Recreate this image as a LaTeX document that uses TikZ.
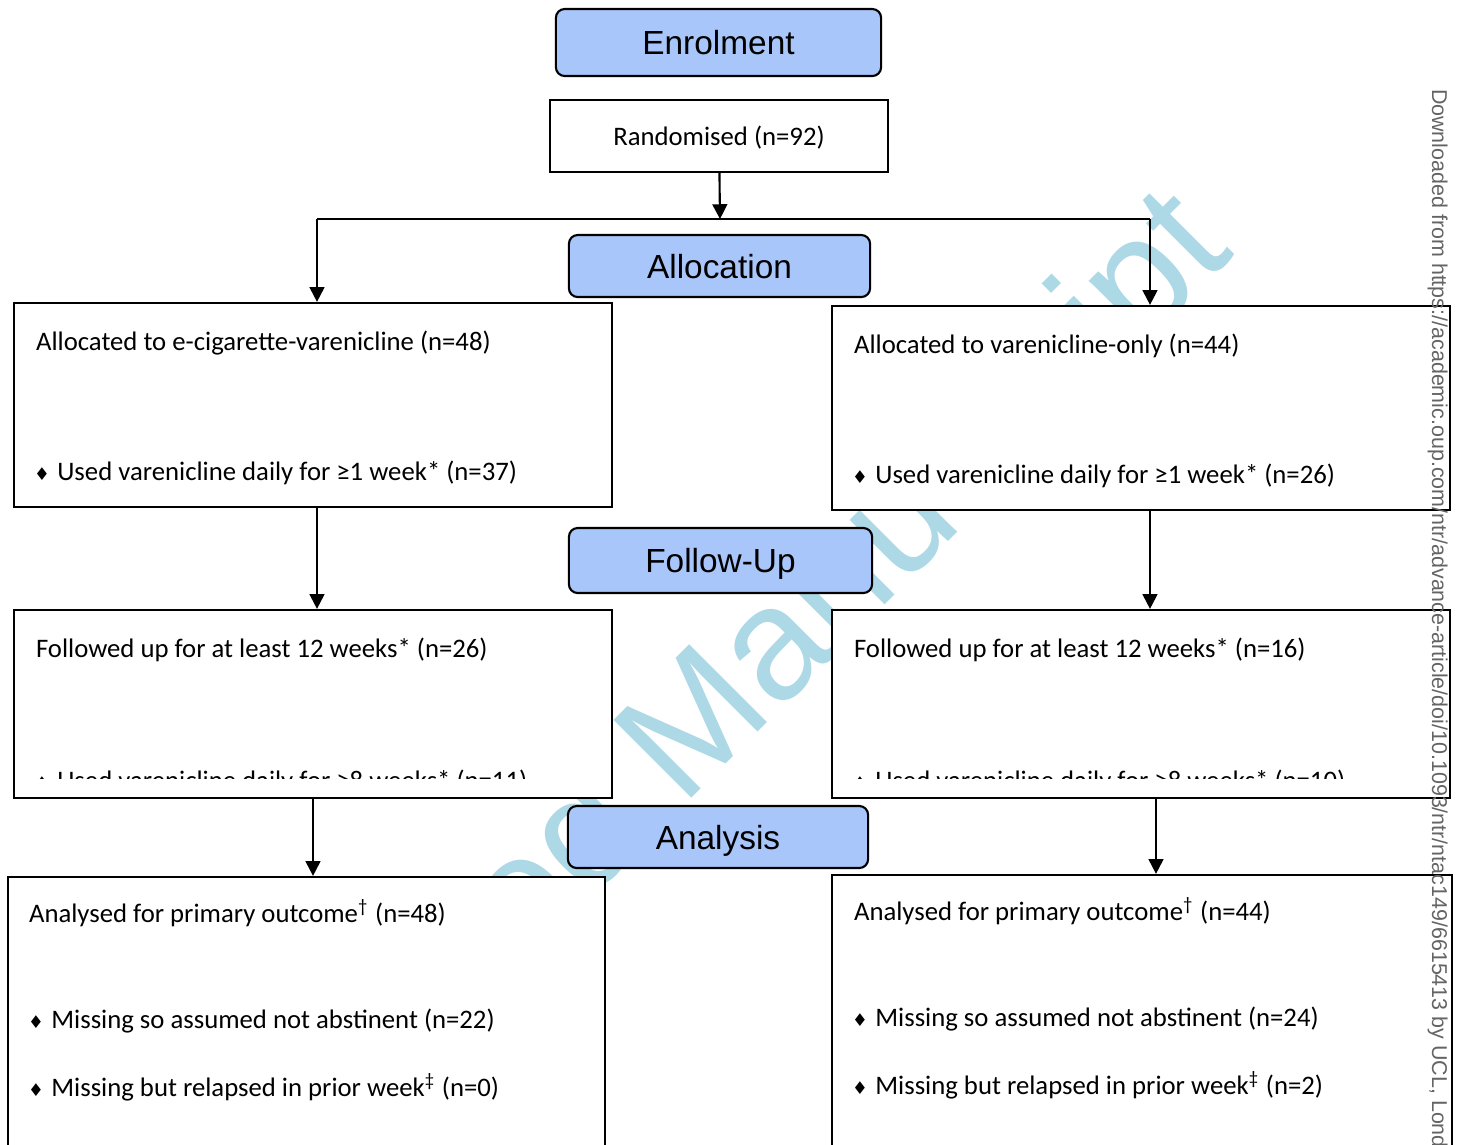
\documentclass[tikz,border=0pt]{standalone}
\usepackage{fontspec}
\setmainfont{Carlito}
\newfontfamily\arialfont{Liberation Sans}
\newfontfamily\symfont{DejaVu Sans}
\usepackage{tikz}
\usetikzlibrary{arrows.meta,calc,positioning}
\definecolor{hdrblue}{RGB}{168,198,250}
\definecolor{wmblue}{RGB}{173,216,230}
\definecolor{dlgray}{RGB}{100,100,100}
\tikzset{CONSORT style/.style={>={Triangle[length=4.2pt,width=4.2pt]},line width=0.6pt}}
\newcommand{\dmd}{\hspace{-1.1pt}{\symfont\fontsize{5}{6}\selectfont ♦}\hspace{2.1pt}}

\begin{document}
\begin{tikzpicture}[x=0.01cm,y=-0.01cm,CONSORT style]
	\tikzstyle{phase}=[draw,rounded corners=2.5pt,fill=hdrblue,inner sep=0,text depth=0pt,
	font=\arialfont\fontsize{9.5}{11}\selectfont]
	\tikzstyle{box}=[draw,fill=white,inner sep=0]
	\tikzstyle{txt}=[anchor=base west,inner sep=0,font=\fontsize{7.6}{9}\selectfont]
	%	\tikzstyle{wide}=[box,minimum width=6.18cm]
	
	\useasboundingbox (0,0) rectangle (1457,1144);
	
	\node[rotate=45,anchor=base,inner sep=0,text=wmblue,
	font=\arialfont\fontsize{45.5}{50}\selectfont] (wm) at (708,782) {Accepted Manuscript};
	
	\node[phase,minimum width=3.25cm,minimum height=0.67cm] (enrol) at (718.5,42.5) {Enrolment};
	\node[box,minimum width=3.38cm,minimum height=0.72cm,text depth=0pt,
	font=\fontsize{7.6}{9}\selectfont] (rand) at (719,136) {Randomised (n=92)};
	
	\node[phase,minimum width=3.01cm,minimum height=0.62cm] (alloc) at (719.5,266) {Allocation};
	\node[box,minimum width=5.98cm,minimum height=2.04cm] (allocL) at (313,405) {};
	\node[box,minimum width=6.18cm,minimum height=2.04cm] (allocR) at (1141,408) {};
	
	\node[phase,minimum width=3.03cm,minimum height=0.65cm] (follow) at (720.5,560.5) {Follow-Up};
	\node[box,minimum width=5.98cm,minimum height=1.88cm] (followL) at (313,704) {};
	\node[box,minimum width=6.18cm,minimum height=1.88cm] (followR) at (1141,704) {};
	
	\node[phase,minimum width=3.0cm,minimum height=0.62cm] (analysis) at (718,837) {Analysis};
	\node[box,minimum width=5.97cm,minimum height=2.83cm] (analysisL) at (306.5,1018.5) {};
	\node[box,minimum width=6.2cm,minimum height=2.85cm] (analysisR) at (1142,1017.5) {};
	
	\node[txt] (allocLa) at (35,350) {Allocated to e-cigarette-varenicline (n=48)};
	\node[txt] (allocLb) at (37,480) {\dmd Used varenicline daily for ≥1 week* (n=37)};
	\node[txt] (allocRa) at (853,353) {Allocated to varenicline-only (n=44)};
	\node[txt] (allocRb) at (855,483) {\dmd Used varenicline daily for ≥1 week* (n=26)};
	
	\node[txt] (followLa) at (35,657) {Followed up for at least 12 weeks* (n=26)};
	\node[txt] (followRa) at (853,657) {Followed up for at least 12 weeks* (n=16)};
	\begin{scope}
		\clip (0,600) rectangle (1457,778);
		\node[txt] (followLb) at (37,789) {\dmd Used varenicline daily for ≥8 weeks* (n=11)};
		\node[txt] (followRb) at (855,789) {\dmd Used varenicline daily for ≥8 weeks* (n=10)};
	\end{scope}
	
	\node[txt] (analysisLa) at (28,922) {Analysed for primary outcome\textsuperscript{†} (n=48)};
	\node[txt] (analysisLb) at (31,1028) {\dmd Missing so assumed not abstinent (n=22)};
	\node[txt] (analysisLc) at (31,1096) {\dmd Missing but relapsed in prior week\textsuperscript{‡} (n=0)};
	\node[txt] (analysisRa) at (853,920) {Analysed for primary outcome\textsuperscript{†} (n=44)};
	\node[txt] (analysisRb) at (855,1026) {\dmd Missing so assumed not abstinent (n=24)};
	\node[txt] (analysisRc) at (855,1094) {\dmd Missing but relapsed in prior week\textsuperscript{‡} (n=2)};
	
	\coordinate (split) at (720,219);
	\coordinate (splitL) at (317,219);
	\coordinate (splitR) at (1150,219);
	\coordinate (fR) at ([xshift=0.15cm]followR.south);
	
	\draw (splitL) -- (splitR);
	\path[->]
	(rand) edge (split)
	(splitL) edge (splitL |- allocL.north)
	(splitR) edge (splitR |- allocR.north)
	
	(allocL.south -| splitL) edge (followL.north -| splitL)
	(allocR.south -| splitR) edge (followR.north -| splitR)
	
	(followL.south) edge (followL.south |- analysisL.north)
	(fR) edge (fR |- analysisR.north)
	;
	
	\node[rotate=-90,anchor=base west,inner sep=0,text=dlgray,
	font=\arialfont\fontsize{6.1}{7}\selectfont] (dl) at (1432,88)
	{Downloaded from https://academic.oup.com/ntr/advance-article/doi/10.1093/ntr/ntac149/6615413 by UCL, London};
\end{tikzpicture}
\end{document}
